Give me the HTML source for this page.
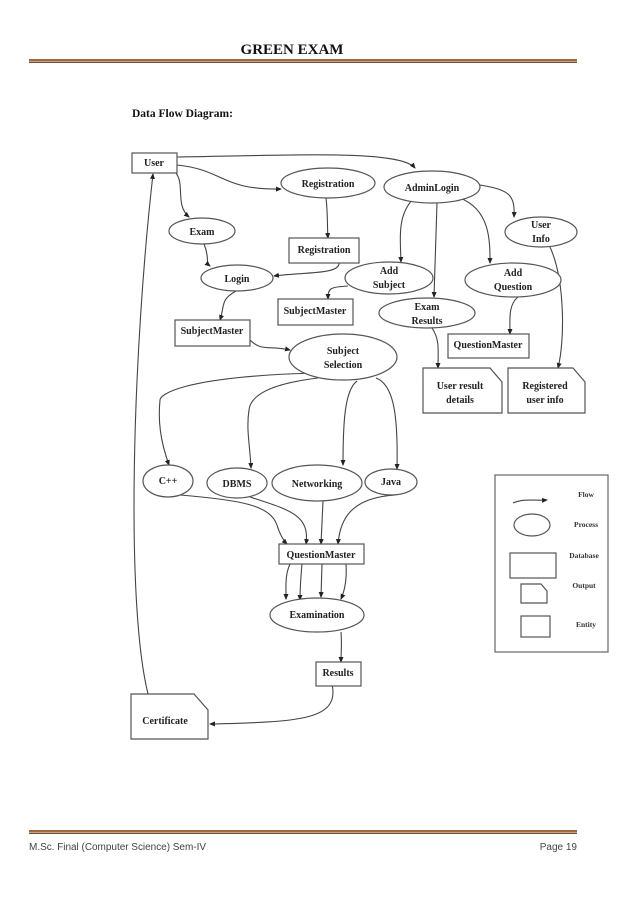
<!DOCTYPE html>
<html><head><meta charset="utf-8"><style>
body{margin:0;background:#fff;}
svg{display:block}
.n{font-family:"Liberation Serif",serif;font-weight:bold;font-size:10px;fill:#222;text-anchor:middle}
.s{fill:#fff;stroke:#555;stroke-width:1.2}
.e{fill:none;stroke:#444;stroke-width:1.1}
</style></head><body>
<svg width="638" height="903" viewBox="0 0 638 903" xmlns="http://www.w3.org/2000/svg">
<defs><marker id="a" markerWidth="6" markerHeight="6" refX="5" refY="3" orient="auto" markerUnits="userSpaceOnUse"><path d="M0,0.5 L6,3 L0,5.5z" fill="#222"/></marker></defs>
<text x="292" y="54" text-anchor="middle" font-family="Liberation Serif,serif" font-weight="bold" font-size="15" fill="#111">GREEN EXAM</text>
<rect x="29" y="59" width="548" height="2" fill="#a0683c"/><rect x="29" y="61.5" width="548" height="1.5" fill="#7a4a2a"/>
<text x="132" y="117" font-family="Liberation Serif,serif" font-weight="bold" font-size="11.5" fill="#111">Data Flow Diagram:</text>
<rect x="29" y="830" width="548" height="2" fill="#a0683c"/><rect x="29" y="832.5" width="548" height="1.5" fill="#7a4a2a"/>
<text x="29" y="850" font-family="Liberation Sans,sans-serif" font-size="10" fill="#444" textLength="177">M.Sc. Final (Computer Science) Sem-IV</text>
<text x="577" y="850" text-anchor="end" font-family="Liberation Sans,sans-serif" font-size="10" fill="#444">Page 19</text>

<g class="e">
<path d="M177,157 C300,155 400,150 415,168" marker-end="url(#a)"/>
<path d="M177,165 C225,170 220,190 281,189" marker-end="url(#a)"/>
<path d="M176,173 C185,185 175,205 189,217" marker-end="url(#a)"/>
<path d="M148,694 C125,600 133,350 153,174" marker-end="url(#a)"/>
<path d="M326,198 C328,215 327,225 328,238" marker-end="url(#a)"/>
<path d="M339,263 C340,275 300,272 274,276" marker-end="url(#a)"/>
<path d="M204,244 C210,258 205,262 210,266" marker-end="url(#a)"/>
<path d="M236,291 C220,300 225,305 220,320" marker-end="url(#a)"/>
<path d="M250,340 C262,352 270,345 290,350" marker-end="url(#a)"/>
<path d="M348,286 C330,287 328,288 328,299" marker-end="url(#a)"/>
<path d="M413,199 C398,215 400,235 401,262" marker-end="url(#a)"/>
<path d="M437,203 L434,297" marker-end="url(#a)"/>
<path d="M460,198 C490,210 490,240 490,263" marker-end="url(#a)"/>
<path d="M480,185 C510,190 515,195 514,217" marker-end="url(#a)"/>
<path d="M518,297 C508,305 510,320 510,334" marker-end="url(#a)"/>
<path d="M432,328 C440,340 438,350 438,368" marker-end="url(#a)"/>
<path d="M550,247 C565,280 565,340 558,368" marker-end="url(#a)"/>
<path d="M313,373 C180,377 160,395 160,400 C158,420 160,440 169,465" marker-end="url(#a)"/>
<path d="M318,378 C260,385 250,400 249,410 C246,430 250,445 251,468" marker-end="url(#a)"/>
<path d="M357,381 C345,390 343,420 343,465" marker-end="url(#a)"/>
<path d="M376,378 C395,385 398,420 397,469" marker-end="url(#a)"/>
<path d="M180,495 C240,500 270,505 277,525 C280,535 283,540 287,544" marker-end="url(#a)"/>
<path d="M250,497 C290,510 310,515 306,544" marker-end="url(#a)"/>
<path d="M323,501 L321,544" marker-end="url(#a)"/>
<path d="M395,495 C350,498 340,520 338,544" marker-end="url(#a)"/>
<path d="M290,564 C285,575 286,585 286,599" marker-end="url(#a)"/>
<path d="M302,564 C301,575 300,590 300,600" marker-end="url(#a)"/>
<path d="M322,564 L321,597" marker-end="url(#a)"/>
<path d="M346,564 C347,580 345,590 341,599" marker-end="url(#a)"/>
<path d="M341,632 C342,645 341,652 341,662" marker-end="url(#a)"/>
<path d="M332,684 C340,720 300,722 210,724" marker-end="url(#a)"/>
</g>

<rect class="s" x="132" y="153" width="45" height="20"/><text class="n" x="154" y="166">User</text>
<ellipse class="s" cx="328" cy="183" rx="47" ry="15"/><text class="n" x="328" y="187">Registration</text>
<ellipse class="s" cx="432" cy="187" rx="48" ry="16"/><text class="n" x="432" y="191">AdminLogin</text>
<ellipse class="s" cx="202" cy="231" rx="33" ry="13"/><text class="n" x="202" y="235">Exam</text>
<rect class="s" x="289" y="238" width="70" height="25"/><text class="n" x="324" y="253">Registration</text>
<ellipse class="s" cx="237" cy="278" rx="36" ry="13"/><text class="n" x="237" y="282">Login</text>
<ellipse class="s" cx="389" cy="278" rx="44" ry="16"/><text class="n" x="389" y="274">Add</text><text class="n" x="389" y="288">Subject</text>
<ellipse class="s" cx="541" cy="232" rx="36" ry="15"/><text class="n" x="541" y="228">User</text><text class="n" x="541" y="242">Info</text>
<ellipse class="s" cx="513" cy="280" rx="48" ry="17"/><text class="n" x="513" y="276">Add</text><text class="n" x="513" y="290">Question</text>
<rect class="s" x="278" y="299" width="75" height="26"/><text class="n" x="315" y="314">SubjectMaster</text>
<ellipse class="s" cx="427" cy="313" rx="48" ry="15"/><text class="n" x="427" y="310">Exam</text><text class="n" x="427" y="324">Results</text>
<rect class="s" x="175" y="320" width="75" height="26"/><text class="n" x="212" y="334">SubjectMaster</text>
<rect class="s" x="448" y="334" width="81" height="24"/><text class="n" x="488" y="348">QuestionMaster</text>
<ellipse class="s" cx="343" cy="357" rx="54" ry="23"/><text class="n" x="343" y="354">Subject</text><text class="n" x="343" y="368">Selection</text>
<path class="s" d="M423,368 H490 L502,382 V413 H423z"/><text class="n" x="460" y="389">User result</text><text class="n" x="460" y="403">details</text>
<path class="s" d="M508,368 H573 L585,382 V413 H508z"/><text class="n" x="545" y="389">Registered</text><text class="n" x="545" y="403">user info</text>
<ellipse class="s" cx="168" cy="481" rx="25" ry="16"/><text class="n" x="168" y="484">C++</text>
<ellipse class="s" cx="237" cy="483" rx="30" ry="15"/><text class="n" x="237" y="487">DBMS</text>
<ellipse class="s" cx="317" cy="483" rx="45" ry="18"/><text class="n" x="317" y="487">Networking</text>
<ellipse class="s" cx="391" cy="482" rx="26" ry="13"/><text class="n" x="391" y="485">Java</text>
<rect class="s" x="279" y="544" width="85" height="20"/><text class="n" x="321" y="558">QuestionMaster</text>
<ellipse class="s" cx="317" cy="615" rx="47" ry="17"/><text class="n" x="317" y="618">Examination</text>
<rect class="s" x="316" y="662" width="45" height="24"/><text class="n" x="338" y="676">Results</text>
<path class="s" d="M131,694 H194 L208,710 V739 H131z"/><text class="n" x="165" y="724">Certificate</text>

<rect x="495" y="475" width="113" height="177" fill="none" stroke="#666" stroke-width="1.2"/>
<path class="e" d="M513,503 C525,498 535,501 547,500" marker-end="url(#a)"/>
<ellipse class="s" cx="532" cy="525" rx="18" ry="11"/>
<rect class="s" x="510" y="553" width="46" height="25"/>
<path class="s" d="M521,584 H541 L547,591 V603 H521z"/>
<rect class="s" x="521" y="616" width="29" height="21"/>
<g font-family="Liberation Serif,serif" font-weight="bold" font-size="7.5" fill="#333" text-anchor="middle">
<text x="586" y="497">Flow</text><text x="586" y="527">Process</text><text x="584" y="558">Database</text><text x="584" y="588">Output</text><text x="586" y="627">Entity</text></g>
</svg>
</body></html>
